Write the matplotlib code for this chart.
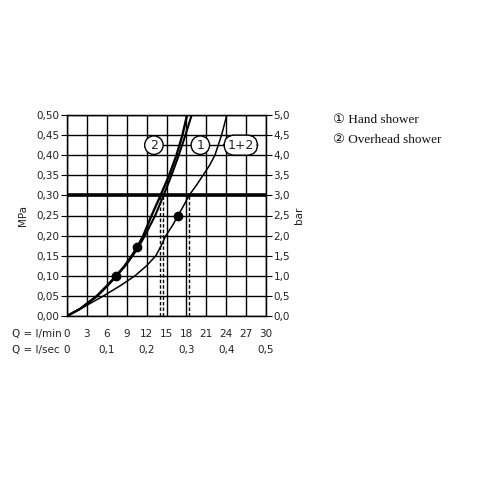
import matplotlib
matplotlib.use("Agg")
import matplotlib.pyplot as plt
import matplotlib.transforms as mtransforms

plt.rcParams["font.family"] = ["DejaVu Sans"]

# ---- data (flow in l/min, pressure in MPa) ----
overhead_q = [0, 2.0, 4.5, 6.0, 7.4, 8.7, 9.75, 10.6, 11.5, 12.75, 14.1, 15.4, 16.5, 17.4, 18.1]
overhead_p = [0, 0.018, 0.05, 0.075, 0.10, 0.125, 0.15, 0.172, 0.20, 0.25, 0.30, 0.35, 0.40, 0.45, 0.50]
hand_q = [0, 2.0, 4.6, 6.1, 7.5, 8.8, 9.9, 10.8, 11.75, 13.3, 14.55, 15.75, 16.85, 17.85, 18.8]
hand_p = [0, 0.018, 0.05, 0.075, 0.10, 0.125, 0.15, 0.172, 0.20, 0.25, 0.30, 0.35, 0.40, 0.45, 0.50]
both_q = [0, 2.5, 5.5, 8.0, 10.25, 12.0, 13.4, 14.2, 14.9, 15.9, 16.75, 17.6, 18.4, 19.5, 20.5, 21.5, 22.3, 23.3, 24.1]
both_p = [0, 0.022, 0.05, 0.075, 0.10, 0.125, 0.15, 0.175, 0.20, 0.225, 0.25, 0.275, 0.30, 0.325, 0.35, 0.375, 0.40, 0.45, 0.50]
markers_thick_q = [7.4, 10.6]
markers_thick_p = [0.10, 0.172]
markers_thin_q = [16.75]
markers_thin_p = [0.25]
dashed_q = [14.05, 14.45, 18.45]
ref_pressure = 0.30

lmin_ticks = [0, 3, 6, 9, 12, 15, 18, 21, 24, 27, 30]
lsec_vals = [0, 0.1, 0.2, 0.3, 0.4, 0.5]
lsec_labels = ["0", "0,1", "0,2", "0,3", "0,4", "0,5"]
mpa_ticks = [0, 0.05, 0.10, 0.15, 0.20, 0.25, 0.30, 0.35, 0.40, 0.45, 0.50]
mpa_labels = ["0,00", "0,05", "0,10", "0,15", "0,20", "0,25", "0,30", "0,35", "0,40", "0,45", "0,50"]
bar_labels = ["0,0", "0,5", "1,0", "1,5", "2,0", "2,5", "3,0", "3,5", "4,0", "4,5", "5,0"]
curve_tags = ["2", "1", "1+2"]
curve_tag_q = [13.1, 20.1, 26.2]
curve_tag_p = 0.425
legend_lines = ["\u2460 Hand shower", "\u2461 Overhead shower"]

fig = plt.figure(figsize=(5, 5), dpi=100)
ax = fig.add_axes([0.134, 0.368, 0.398, 0.402])
ax.set_xlim(0, 30)
ax.set_ylim(0, 0.5)

tc = "#222222"
fs = 7.5
row1_y = 1 - 334 / 500
row2_y = 1 - 350 / 500
ax.set_xticks(lmin_ticks)
ax.set_xticklabels([])
ax.tick_params(axis="x", length=0)
ax.set_yticks(mpa_ticks)
ax.set_yticklabels(mpa_labels, fontsize=fs, color=tc)
ax.tick_params(axis="y", length=4, width=0.8, pad=1.5)
ax.grid(True, color="black", linewidth=1.0)
for s in ax.spines.values():
    s.set_linewidth(1.0)

ax2 = ax.twinx()
ax2.set_ylim(0, 0.5)
ax2.set_yticks(mpa_ticks)
ax2.set_yticklabels(bar_labels, fontsize=fs, color=tc)
ax2.tick_params(axis="y", length=4, width=0.8, pad=1.5)
ax2.set_ylabel("bar", fontsize=fs, color=tc, labelpad=3)
ax.set_ylabel("MPa", fontsize=fs, color=tc, labelpad=6)

ax.axhline(ref_pressure, color="black", linewidth=2.6, zorder=3)
for q in dashed_q:
    ax.plot([q, q], [0, ref_pressure], color="black", linewidth=1.0,
            linestyle=(0, (2.5, 1.5)), zorder=3)

ax.plot(overhead_q, overhead_p, color="black", linewidth=1.7, zorder=4)
ax.plot(hand_q, hand_p, color="black", linewidth=1.5, zorder=4)
ax.plot(both_q, both_p, color="black", linewidth=1.1, zorder=4)
ax.plot(markers_thick_q, markers_thick_p, "o", color="black", markersize=6, zorder=5)
ax.plot(markers_thin_q, markers_thin_p, "o", color="black", markersize=6, zorder=5)

ax.plot([curve_tag_q[0], curve_tag_q[-1]], [curve_tag_p, curve_tag_p],
        color="black", linewidth=1.0, zorder=5)
for tag, q in zip(curve_tags, curve_tag_q):
    style = "circle,pad=0.22" if len(tag) == 1 else "round,pad=0.28,rounding_size=0.85"
    ax.text(q, curve_tag_p, tag, fontsize=9, ha="center", va="center", color=tc,
            zorder=6, bbox=dict(boxstyle=style, facecolor="white", edgecolor="black",
                                linewidth=1.0))

# bottom rows
trans = mtransforms.blended_transform_factory(ax.transData, fig.transFigure)
for v in lmin_ticks:
    ax.text(v, row1_y, str(v), transform=trans, ha="center", va="center",
            fontsize=fs, color=tc)
for v, lab in zip(lsec_vals, lsec_labels):
    ax.text(v * 60, row2_y, lab, transform=trans, ha="center", va="center",
            fontsize=fs, color=tc)
fig.text(12 / 500, row1_y, "Q = l/min", ha="left", va="center", fontsize=fs, color=tc)
fig.text(12 / 500, row2_y, "Q = l/sec", ha="left", va="center", fontsize=fs, color=tc)

# legend
for i, line in enumerate(legend_lines):
    fig.text(333 / 500, 1 - (120 + 20 * i) / 500, line, ha="left", va="center",
             fontsize=9.5, color="#111111",
             family=["Liberation Serif", "DejaVu Sans"])

fig.savefig("out.png", dpi=100, facecolor="white")
